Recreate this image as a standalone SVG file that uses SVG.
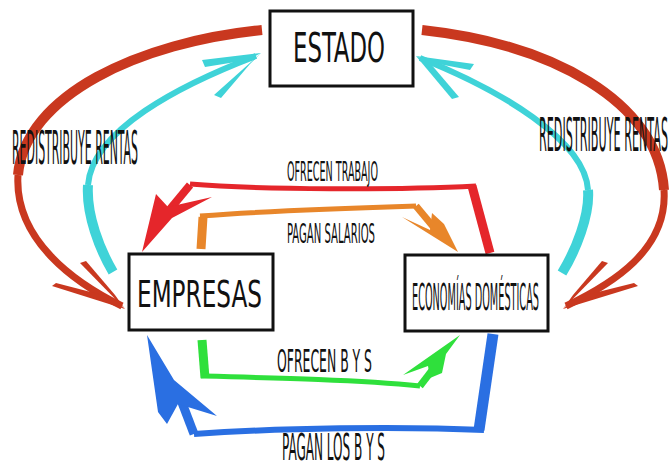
<svg xmlns="http://www.w3.org/2000/svg" width="671" height="462" viewBox="0 0 671 462">
<style>
.box{fill:#fff;stroke:#111;stroke-width:3}
.t{font-family:"DejaVu Sans Condensed","DejaVu Sans","Liberation Sans",sans-serif;fill:#111}
.s{fill:none;stroke-linejoin:round}
.dr{stroke:#c9381f}
.cy{stroke:#3fd3d8}
.rd{stroke:#e5262b}
.or{stroke:#e8862a}
.gr{stroke:#2fe03c}
.bl{stroke:#2a6fe2}
</style>
<rect width="671" height="462" fill="#fff"/>
<g id="connectors">
  <!-- left dark red: Estado -> Empresas -->
  <path class="s dr" stroke-width="10" d="M262,30 C140,42 25,95 18,175"/>
  <path class="s dr" stroke-width="7" d="M18,175 C14,240 75,283 122,306"/>
  <polygon fill="#c9381f" points="125,309 52,286 56,283 110,297"/>
  <polygon fill="#c9381f" points="125,309 80,263 86,261 115,295"/>
  <!-- right dark red: Estado -> Economias -->
  <path class="s dr" stroke-width="10" d="M422,30 C550,44 658,100 664,190"/>
  <path class="s dr" stroke-width="7" d="M664,190 C668,250 612,284 566,306"/>
  <polygon fill="#c9381f" points="563,309 638,286 634,283 578,297"/>
  <polygon fill="#c9381f" points="563,309 608,263 602,261 573,295"/>
  <!-- left cyan: Empresas -> Estado -->
  <path class="s cy" stroke-width="10" d="M113,272 C100,250 86,215 88,185"/>
  <path class="s cy" stroke-width="6" d="M88,185 C92,130 180,85 256,56"/>
  <polygon fill="#3fd3d8" points="261,53 202,60 205,67 248,60"/>
  <polygon fill="#3fd3d8" points="261,53 214,95 221,98 250,64"/>
  <!-- right cyan: Economias -> Estado -->
  <path class="s cy" stroke-width="10" d="M562,273 C576,250 590,215 588,190"/>
  <path class="s cy" stroke-width="6" d="M588,190 C585,140 500,90 420,58"/>
  <polygon fill="#3fd3d8" points="416,56 474,64 470,70 428,62"/>
  <polygon fill="#3fd3d8" points="416,56 452,99 459,97 430,63"/>
  <!-- OFRECEN TRABAJO (red) -->
  <path class="s rd" stroke-width="9" d="M490,253 L472,186"/>
  <path class="s rd" stroke-width="5" d="M476,186 C400,190 260,190 190,184"/>
  <path class="s rd" stroke-width="8" d="M190,185 L166,214"/>
  <polygon fill="#e5262b" points="142,252 156,194 168,207 212,197 172,218"/>
  <!-- PAGAN SALARIOS (orange) -->
  <path class="s or" stroke-width="9" d="M201,249 L203,217"/>
  <path class="s or" stroke-width="5" d="M200,216 C280,210 350,208 416,206"/>
  <path class="s or" stroke-width="7" d="M416,206 L436,230"/>
  <polygon fill="#e8862a" points="458,252 402,217 430,230 432,213 444,224"/>
  <!-- OFRECEN B Y S (green) -->
  <path class="s gr" stroke-width="9" d="M202,340 L205,378"/>
  <path class="s gr" stroke-width="5" d="M201,376 C280,378 360,380 420,386"/>
  <path class="s gr" stroke-width="7" d="M420,386 L440,360"/>
  <polygon fill="#2fe03c" points="460,335 403,375 428,366 430,378 442,373 446,354"/>
  <!-- PAGAN LOS B Y S (blue) -->
  <path class="s bl" stroke-width="11" d="M493,334 L479,430"/>
  <path class="s bl" stroke-width="6" d="M484,430 C400,426 280,428 194,434"/>
  <path class="s bl" stroke-width="9" d="M194,434 L181,400"/>
  <polygon fill="#2a6fe2" points="147,335 158,412 167,424 178,404 217,416 174,380"/>
</g>
<g id="estado">
  <rect class="box" x="270" y="11" width="143" height="75"/>
  <text class="t" x="293" y="62" font-size="40" textLength="92" lengthAdjust="spacingAndGlyphs">ESTADO</text>
</g>
<g id="empresas">
  <rect class="box" x="129" y="254" width="144" height="76"/>
  <text class="t" x="137" y="307" font-size="38" textLength="125" lengthAdjust="spacingAndGlyphs">EMPRESAS</text>
</g>
<g id="economias">
  <rect class="box" x="405" y="255" width="143" height="76"/>
  <text class="t" x="412" y="310" font-size="38" textLength="127" lengthAdjust="spacingAndGlyphs">ECONOMÍAS DOMÉSTICAS</text>
</g>
<g id="labels">
  <text class="t" x="12" y="164" font-size="46" textLength="126" lengthAdjust="spacingAndGlyphs">REDISTRIBUYE RENTAS</text>
  <text class="t" x="539" y="151" font-size="47" textLength="129" lengthAdjust="spacingAndGlyphs">REDISTRIBUYE RENTAS</text>
  <text class="t" x="287" y="181" font-size="26" textLength="91" lengthAdjust="spacingAndGlyphs">OFRECEN TRABAJO</text>
  <text class="t" x="287" y="243" font-size="27" textLength="88" lengthAdjust="spacingAndGlyphs">PAGAN SALARIOS</text>
  <text class="t" x="277" y="372" font-size="32" textLength="95" lengthAdjust="spacingAndGlyphs">OFRECEN B Y S</text>
  <text class="t" x="282" y="460" font-size="38" textLength="103" lengthAdjust="spacingAndGlyphs">PAGAN LOS B Y S</text>
</g>
</svg>
